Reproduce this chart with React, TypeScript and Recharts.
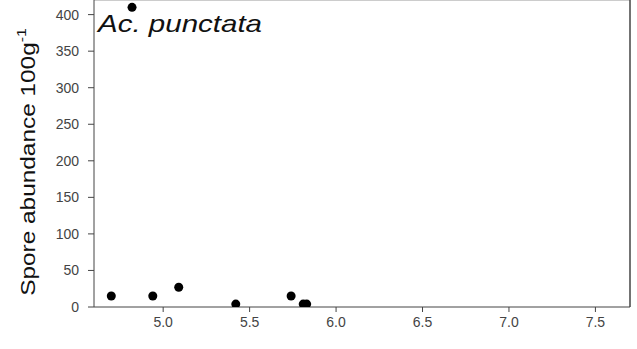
import { ScatterChart, Scatter, XAxis, YAxis, ReferenceLine } from "recharts";

const phValues = [4.7, 4.82, 4.94, 5.09, 5.42, 5.74, 5.81, 5.83];
const sporeCounts = [15, 410, 15, 27, 4, 15, 4, 4];
const xTicks = [5.0, 5.5, 6.0, 6.5, 7.0, 7.5];
const yTicks = [0, 50, 100, 150, 200, 250, 300, 350, 400];

const data = phValues.map((ph, i) => ({ ph, spores: sporeCounts[i] }));

const FONT = "'Liberation Sans', Arial, sans-serif";
const AXIS = "#444";

const Dot = (props: any) => <circle cx={props.cx} cy={props.cy} r={4.5} fill="#000" />;

const YLabel = () => (
  <text transform="translate(35,162) rotate(-90) scale(1.22,1)" textAnchor="middle" fontFamily={FONT} fontSize={20} fill="#111">
    Spore abundance 100g
    <tspan dy={-9} fontSize={13}>-1</tspan>
  </text>
);

export default function App() {
  return (
    <div style={{ position: "absolute", left: 0, top: 0, background: "#fff" }}>
      <ScatterChart width={637} height={349} margin={{ top: 0, right: 7, bottom: 0, left: 0 }}>
        <XAxis
          type="number"
          dataKey="ph"
          domain={[4.6, 7.7]}
          ticks={xTicks}
          tickFormatter={(v: number) => v.toFixed(1)}
          height={42}
          stroke={AXIS}
          tickSize={5}
          tickMargin={5}
          tick={{ fill: "#444", fontSize: 14, fontFamily: FONT }}
          allowDataOverflow
        />
        <YAxis
          type="number"
          dataKey="spores"
          domain={[0, 420]}
          ticks={yTicks}
          width={94}
          stroke={AXIS}
          tickSize={6}
          tickMargin={9}
          tick={{ fill: "#444", fontSize: 14, fontFamily: FONT }}
          label={<YLabel />}
          allowDataOverflow
        />
        <ReferenceLine y={420} stroke="#999" />
        <ReferenceLine x={7.7} stroke={AXIS} strokeWidth={1.5} />
        <Scatter data={data} fill="#000" shape={<Dot />} isAnimationActive={false} />
        <text x={98} y={32} fontFamily={FONT} fontSize={24} fontStyle="italic" fill="#111" textLength={164} lengthAdjust="spacingAndGlyphs">
          Ac. punctata
        </text>
      </ScatterChart>
    </div>
  );
}
